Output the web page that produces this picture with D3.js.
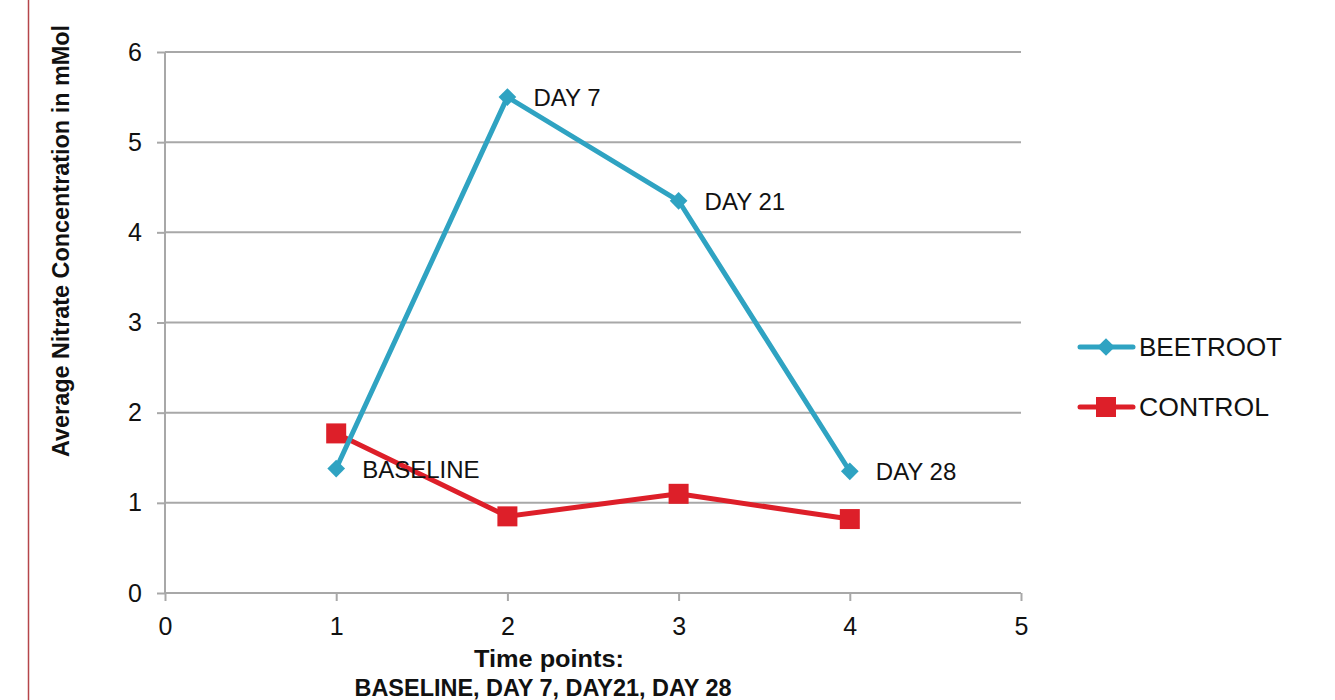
<!DOCTYPE html>
<html>
<head>
<meta charset="utf-8">
<script src="https://cdn.jsdelivr.net/npm/d3@7"></script>
<style>
body { margin: 0; background: #fff; }
svg { display: block; }
text { font-family: "Liberation Sans", Arial, sans-serif; }
</style>
</head>
<body>
<svg id="chart" width="1335" height="700"></svg>
<script>
const xValues = [1, 2, 3, 4];
const pointLabels = ["BASELINE", "DAY 7", "DAY 21", "DAY 28"];
const beetroot = [1.38, 5.5, 4.35, 1.35];
const control = [1.77, 0.85, 1.1, 0.82];
const xTicks = [0, 1, 2, 3, 4, 5];
const yTicks = [0, 1, 2, 3, 4, 5, 6];
const seriesNames = ["BEETROOT", "CONTROL"];
const yTitle = "Average Nitrate Concentration in mMol";
const xTitle1 = "Time points:";
const xTitle2 = "BASELINE, DAY 7, DAY21, DAY 28";

const blue = "#2fa3c2", red = "#dd1f29", grid = "#a8a8a8";
const svg = d3.select("#chart");

// left border line
svg.append("line").attr("x1", 28.5).attr("x2", 28.5).attr("y1", 0).attr("y2", 700)
  .attr("stroke", "#b5454a").attr("stroke-width", 1.5);

const x = d3.scaleLinear().domain([0, 5]).range([165, 1021]);
const y = d3.scaleLinear().domain([0, 6]).range([593, 52]);

// gridlines
svg.append("g").selectAll("line").data(yTicks.filter(d => d > 0)).join("line")
  .attr("x1", x(0)).attr("x2", x(5)).attr("y1", d => y(d)).attr("y2", d => y(d))
  .attr("stroke", grid).attr("stroke-width", 2);

// y axis
const yAxis = svg.append("g").attr("transform", `translate(${x(0)},0)`)
  .call(d3.axisLeft(y).tickValues(yTicks).tickSize(8).tickPadding(15).tickFormat(d3.format("d")));
yAxis.select(".domain").attr("stroke", grid).attr("stroke-width", 2).attr("d", `M0,${y(6)}V${y(0)}`);
yAxis.selectAll(".tick line").attr("stroke", grid).attr("stroke-width", 2);
yAxis.selectAll(".tick text").attr("font-size", 25).attr("fill", "#111").attr("font-family", "Liberation Sans, Arial, sans-serif");

// x axis
const xAxis = svg.append("g").attr("transform", `translate(0,${y(0)})`)
  .call(d3.axisBottom(x).tickValues(xTicks).tickSize(8).tickPadding(16).tickFormat(d3.format("d")));
xAxis.select(".domain").attr("stroke", grid).attr("stroke-width", 2).attr("d", `M${x(0)},0H${x(5)}`);
xAxis.selectAll(".tick line").attr("stroke", grid).attr("stroke-width", 2);
xAxis.selectAll(".tick text").attr("font-size", 25).attr("fill", "#111").attr("font-family", "Liberation Sans, Arial, sans-serif");

// axis titles
svg.append("text").attr("transform", `translate(69,241) rotate(-90)`)
  .attr("text-anchor", "middle").attr("font-size", 23).attr("font-weight", "bold")
  .attr("textLength", 432).attr("lengthAdjust", "spacingAndGlyphs")
  .attr("fill", "#111").text(yTitle);
svg.append("text").attr("x", 549).attr("y", 667).attr("text-anchor", "middle")
  .attr("font-size", 23).attr("font-weight", "bold").attr("textLength", 150).attr("lengthAdjust", "spacingAndGlyphs")
  .attr("fill", "#111").text(xTitle1);
svg.append("text").attr("x", 543).attr("y", 696).attr("text-anchor", "middle")
  .attr("font-size", 23).attr("font-weight", "bold").attr("textLength", 377).attr("lengthAdjust", "spacingAndGlyphs")
  .attr("fill", "#111").text(xTitle2);

const line = d3.line().x((d, i) => x(xValues[i])).y(d => y(d));

// control series
svg.append("path").datum(control).attr("d", line).attr("fill", "none")
  .attr("stroke", red).attr("stroke-width", 5).attr("stroke-linejoin", "round");
svg.append("g").selectAll("rect").data(control).join("rect")
  .attr("x", (d, i) => x(xValues[i]) - 10).attr("y", d => y(d) - 10)
  .attr("width", 20).attr("height", 20).attr("fill", red);

// beetroot series
svg.append("path").datum(beetroot).attr("d", line).attr("fill", "none")
  .attr("stroke", blue).attr("stroke-width", 5).attr("stroke-linejoin", "round");
const diamond = d3.symbol().type(d3.symbolDiamond2).size(200);
svg.append("g").selectAll("path").data(beetroot).join("path")
  .attr("transform", (d, i) => `translate(${x(xValues[i])},${y(d)})`)
  .attr("d", diamond).attr("fill", blue);

// point labels
svg.append("g").selectAll("text").data(beetroot).join("text")
  .attr("x", (d, i) => x(xValues[i]) + 26).attr("y", d => y(d) + 9)
  .attr("font-size", 24).attr("fill", "#111")
  .text((d, i) => pointLabels[i]);

// legend
const legend = svg.append("g");
const lg = [
  { name: seriesNames[0], color: blue, shape: "diamond", yy: 347 },
  { name: seriesNames[1], color: red, shape: "square", yy: 407 }
];
lg.forEach(l => {
  legend.append("line").attr("x1", 1080).attr("x2", 1133).attr("y1", l.yy).attr("y2", l.yy)
    .attr("stroke", l.color).attr("stroke-width", 5).attr("stroke-linecap", "round");
  if (l.shape === "diamond") {
    legend.append("path").attr("transform", `translate(1106,${l.yy})`).attr("d", diamond).attr("fill", l.color);
  } else {
    legend.append("rect").attr("x", 1096).attr("y", l.yy - 10).attr("width", 20).attr("height", 20).attr("fill", l.color);
  }
  const t = legend.append("text").attr("x", 1139).attr("y", l.yy + 9).attr("font-size", 25)
    .attr("fill", "#111").text(l.name);
  if (l.name === "BEETROOT") t.attr("textLength", 143).attr("lengthAdjust", "spacingAndGlyphs");
  else t.attr("textLength", 130).attr("lengthAdjust", "spacingAndGlyphs");
});
</script>
</body>
</html>
